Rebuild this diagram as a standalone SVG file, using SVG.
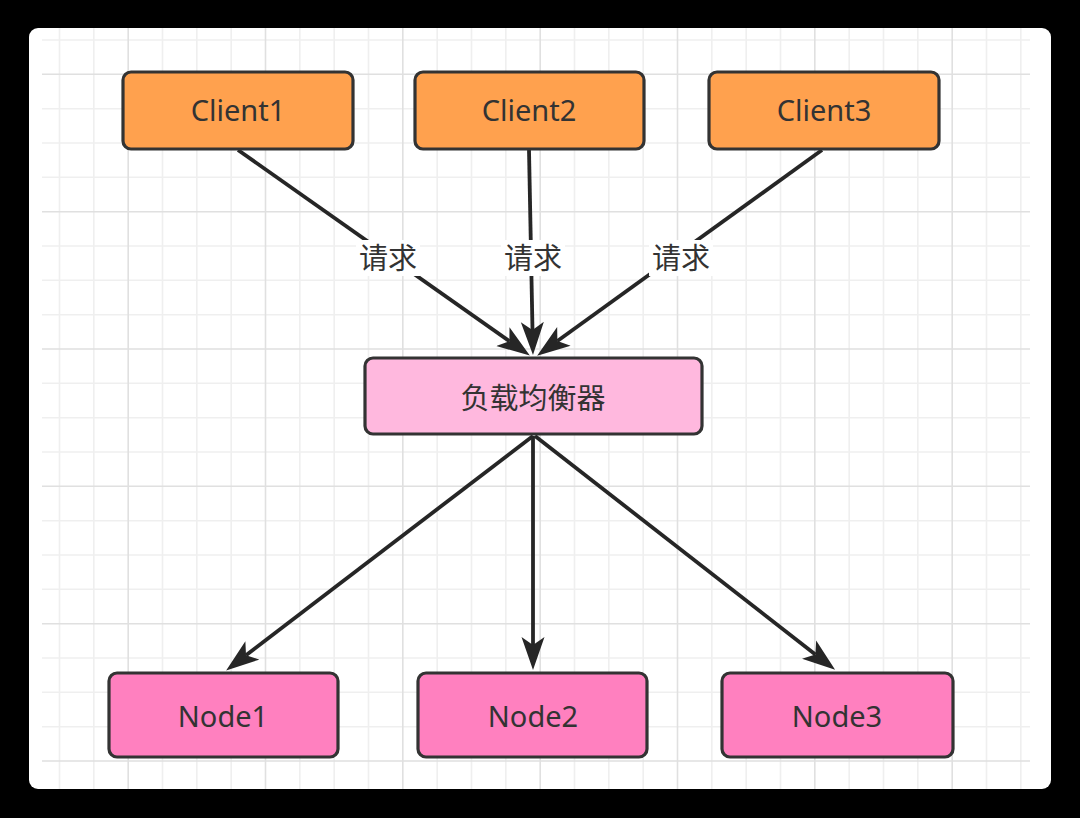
<svg xmlns="http://www.w3.org/2000/svg" width="1080" height="818" viewBox="0 0 1080 818">
<defs>
<style>
.minor{stroke:#efefef;stroke-width:1.6}
.major{stroke:#e0e0e0;stroke-width:1.6}
.box{stroke:#333333;stroke-width:3.2}
.client{fill:#FFA14E}
.lb{fill:#FFB8DE}
.node{fill:#FF80BF}
.t{font-family:"Noto Sans","Noto Sans CJK SC",sans-serif;font-size:29px;fill:#333333;text-anchor:middle}
.edge{stroke:#262626;stroke-width:3.8;fill:none;marker-end:url(#arr)}
.lbl{fill:#ffffff}
</style>
<marker id="arr" markerUnits="userSpaceOnUse" markerWidth="34" markerHeight="24" viewBox="0 0 34 24" refX="8" refY="12" orient="auto">
<path d="M0,0.5 L33,12 L0,23.5 L8,12 Z" fill="#262626"/>
</marker>
</defs>
<rect x="0" y="0" width="1080" height="818" fill="#000000"/>
<rect x="29" y="28" width="1022" height="761" rx="9" fill="#ffffff"/>
<g id="grid">
<g class="minor">
<path d="M59.5,28V789M93.8,28V789M162.5,28V789M196.8,28V789M231.2,28V789M299.8,28V789M334.2,28V789M368.5,28V789M437.2,28V789M471.5,28V789M505.8,28V789M574.5,28V789M608.8,28V789M643.2,28V789M711.8,28V789M746.2,28V789M780.5,28V789M849.2,28V789M883.5,28V789M917.8,28V789M986.5,28V789M1020.8,28V789"/>
<path d="M42,40H1030M42,108.7H1030M42,143H1030M42,177.3H1030M42,246H1030M42,280.3H1030M42,314.7H1030M42,383.3H1030M42,417.7H1030M42,452H1030M42,520.7H1030M42,555H1030M42,589.3H1030M42,658H1030M42,692.3H1030M42,726.7H1030"/>
</g>
<g class="major">
<path d="M128.2,28V789M265.5,28V789M402.8,28V789M540.2,28V789M677.5,28V789M814.8,28V789M952.2,28V789"/>
<path d="M42,74.3H1030M42,211.7H1030M42,349H1030M42,486.3H1030M42,623.7H1030M42,761H1030"/>
</g>
</g>
<g id="connectors">
<path class="edge" d="M238,150 L509.4,341.2"/>
<path class="edge" d="M529,150 L532.5,330"/>
<path class="edge" d="M822,150 L557.4,341"/>
<path class="edge" d="M533,436 L246,655.3"/>
<path class="edge" d="M533,436 L533,645"/>
<path class="edge" d="M535,436 L815.4,654.5"/>
<g id="labels">
<rect class="lbl" x="356" y="240" width="64" height="36"/>
<text class="t" x="388" y="269">请求</text>
<rect class="lbl" x="501" y="240" width="64" height="36"/>
<text class="t" x="533" y="269">请求</text>
<rect class="lbl" x="649" y="240" width="64" height="36"/>
<text class="t" x="681" y="269">请求</text>
</g>
</g>
<g id="client1"><rect class="box client" x="123" y="72" width="230" height="77" rx="8"/><text class="t" x="238" y="121">Client1</text></g>
<g id="client2"><rect class="box client" x="415" y="72" width="229" height="77" rx="8"/><text class="t" x="529" y="121">Client2</text></g>
<g id="client3"><rect class="box client" x="709" y="72" width="230" height="77" rx="8"/><text class="t" x="824" y="121">Client3</text></g>
<g id="lb"><rect class="box lb" x="365" y="358" width="337" height="76" rx="8"/><text class="t" x="533" y="409">负载均衡器</text></g>
<g id="node1"><rect class="box node" x="109" y="673" width="229" height="84" rx="8"/><text class="t" x="223" y="727">Node1</text></g>
<g id="node2"><rect class="box node" x="418" y="673" width="229" height="84" rx="8"/><text class="t" x="533" y="727">Node2</text></g>
<g id="node3"><rect class="box node" x="722" y="673" width="231" height="84" rx="8"/><text class="t" x="837" y="727">Node3</text></g>
</svg>
